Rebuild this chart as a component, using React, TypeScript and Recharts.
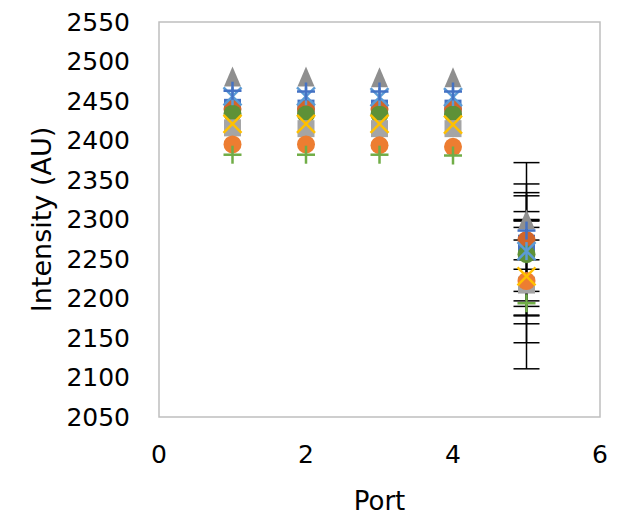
import React from "react";
import {
  ScatterChart,
  Scatter,
  XAxis,
  YAxis,
  ErrorBar,
  ReferenceArea,
} from "recharts";

// x positions (port number)
const ports = [1, 2, 3, 4, 5];

// values per series
const grayTriangle = [2481, 2481, 2480, 2480, 2300];
const bluePlus = [2463, 2462, 2462, 2462, 2286];
const lightBlueStar = [2456, 2456, 2455, 2455, 2260];
const blueSquare = [2442, 2441, 2441, 2441, 2270];
const darkOrangeCircle = [2440, 2440, 2440, 2440, 2274];
const greenCircle = [2434, 2433, 2433, 2433, 2256];
const yellowX = [2421, 2421, 2421, 2420, 2228];
const graySquare = [2416, 2415, 2415, 2415, 2217];
const orangeCircle = [2395, 2395, 2394, 2392, 2222];
const greenPlus = [2382, 2382, 2382, 2381, 2194];

// error (+/-) per series, only port 5 has visible bars
const grayTriangleErr = [null, null, null, null, 10];
const bluePlusErr = [null, null, null, null, 12];
const lightBlueStarErr = [null, null, null, null, 70];
const blueSquareErr = [null, null, null, null, 102];
const darkOrangeCircleErr = [null, null, null, null, 25];
const greenCircleErr = [null, null, null, null, 78];
const yellowXErr = [null, null, null, null, 117];
const graySquareErr = [null, null, null, null, 20];
const orangeCircleErr = [null, null, null, null, 78];
const greenPlusErr = [null, null, null, null, 15];

const yTicks = [2050, 2100, 2150, 2200, 2250, 2300, 2350, 2400, 2450, 2500, 2550];
const xTicks = [0, 2, 4, 6];

type Kind = "triangle" | "square" | "circle" | "x" | "plus" | "star";

// drawing order: first is at the bottom
const series: { name: string; values: number[]; errs: (number | null)[]; kind: Kind; color: string }[] = [
  { name: "blueSquare", values: blueSquare, errs: blueSquareErr, kind: "square", color: "#4472C4" },
  { name: "darkOrangeCircle", values: darkOrangeCircle, errs: darkOrangeCircleErr, kind: "circle", color: "#D2652A" },
  { name: "greenCircle", values: greenCircle, errs: greenCircleErr, kind: "circle", color: "#5E9137" },
  { name: "graySquare", values: graySquare, errs: graySquareErr, kind: "square", color: "#A5A5A5" },
  { name: "orangeCircle", values: orangeCircle, errs: orangeCircleErr, kind: "circle", color: "#ED7D31" },
  { name: "yellowX", values: yellowX, errs: yellowXErr, kind: "x", color: "#FFC000" },
  { name: "greenPlus", values: greenPlus, errs: greenPlusErr, kind: "plus", color: "#70AD47" },
  { name: "grayTriangle", values: grayTriangle, errs: grayTriangleErr, kind: "triangle", color: "#8F8F8F" },
  { name: "lightBlueStar", values: lightBlueStar, errs: lightBlueStarErr, kind: "star", color: "#5B9BD5" },
  { name: "bluePlus", values: bluePlus, errs: bluePlusErr, kind: "plus", color: "#4472C4" },
];

const FONT = "'DejaVu Sans', sans-serif";
const W = 626;
const H = 516;
const MARGIN = { top: 22, right: 26, left: 0, bottom: 0 };

function Marker({ cx, cy, kind, color }: { cx: number; cy: number; kind: Kind; color: string }) {
  if (cx == null || cy == null) return null;
  const h = 9;
  if (kind === "triangle")
    return <polygon points={`${cx},${cy - 10} ${cx + 8.5},${cy + 10} ${cx - 8.5},${cy + 10}`} fill={color} />;
  if (kind === "square")
    return <rect x={cx - 8.5} y={cy - 8.5} width={17} height={17} fill={color} />;
  if (kind === "circle") return <circle cx={cx} cy={cy} r={9} fill={color} />;
  if (kind === "plus")
    return (
      <g stroke={color} strokeWidth={2.5}>
        <line x1={cx - h} y1={cy} x2={cx + h} y2={cy} />
        <line x1={cx} y1={cy - h} x2={cx} y2={cy + h} />
      </g>
    );
  if (kind === "x")
    return (
      <g stroke={color} strokeWidth={2.5}>
        <line x1={cx - h} y1={cy - h} x2={cx + h} y2={cy + h} />
        <line x1={cx - h} y1={cy + h} x2={cx + h} y2={cy - h} />
      </g>
    );
  // star: x with a vertical stroke
  return (
    <g stroke={color} strokeWidth={2.5}>
      <line x1={cx - h} y1={cy - h} x2={cx + h} y2={cy + h} />
      <line x1={cx - h} y1={cy + h} x2={cx + h} y2={cy - h} />
      <line x1={cx} y1={cy - h} x2={cx} y2={cy + h} />
    </g>
  );
}

const toData = (values: number[], errs: (number | null)[]) =>
  ports.map((p, i) => ({ port: p, value: values[i], err: errs[i] }));

// bottom layer: frame, axes, labels and error bars
function BaseChart() {
  return (
    <ScatterChart width={W} height={H} margin={MARGIN} style={{ fontFamily: FONT }}>
      <ReferenceArea x1={0} x2={6} y1={2050} y2={2550} fill="none" stroke="#BFBFBF" strokeWidth={1.5} />
      <XAxis
        type="number"
        dataKey="port"
        domain={[0, 6]}
        ticks={xTicks}
        axisLine={false}
        tickLine={false}
        tickSize={0}
        tickMargin={28}
        height={99}
        tick={{ fill: "#000", fontSize: 25, fontFamily: FONT }}
        label={{ value: "Port", position: "insideBottom", offset: 6, fill: "#000", fontSize: 26, fontFamily: FONT }}
      />
      <YAxis
        type="number"
        dataKey="value"
        domain={[2050, 2550]}
        ticks={yTicks}
        axisLine={false}
        tickLine={false}
        tickSize={0}
        tickMargin={29}
        width={159}
        interval={0}
        tick={{ fill: "#000", fontSize: 25, fontFamily: FONT }}
        label={{
          value: "Intensity (AU)",
          angle: -90,
          position: "insideLeft",
          offset: 41,
          fill: "#000",
          fontSize: 27,
          fontFamily: FONT,
          style: { textAnchor: "middle" },
        }}
      />
      {series.map((s) => (
        <Scatter key={"err-" + s.name} data={toData(s.values, s.errs)} isAnimationActive={false} shape={() => <g />}>
          <ErrorBar dataKey="err" direction="y" width={13} stroke="#000" strokeWidth={1.5} />
        </Scatter>
      ))}
    </ScatterChart>
  );
}

// top layer: the markers, same plot area so the scales line up
function MarkerChart() {
  return (
    <ScatterChart width={W} height={H} margin={MARGIN}>
      <XAxis type="number" dataKey="port" domain={[0, 6]} ticks={xTicks} axisLine={false} tickLine={false} tick={false} height={99} />
      <YAxis type="number" dataKey="value" domain={[2050, 2550]} ticks={yTicks} axisLine={false} tickLine={false} tick={false} width={159} />
      {series.map((s) => (
        <Scatter
          key={s.name}
          data={toData(s.values, s.errs)}
          isAnimationActive={false}
          shape={(p: any) => <Marker cx={p.cx} cy={p.cy} kind={s.kind} color={s.color} />}
        />
      ))}
    </ScatterChart>
  );
}

export default function App() {
  return (
    <div style={{ position: "absolute", left: 0, top: 0, width: W, height: H, background: "#fff" }}>
      <div style={{ position: "absolute", left: 0, top: 0 }}>
        <BaseChart />
      </div>
      <div style={{ position: "absolute", left: 0, top: 0 }}>
        <MarkerChart />
      </div>
    </div>
  );
}
